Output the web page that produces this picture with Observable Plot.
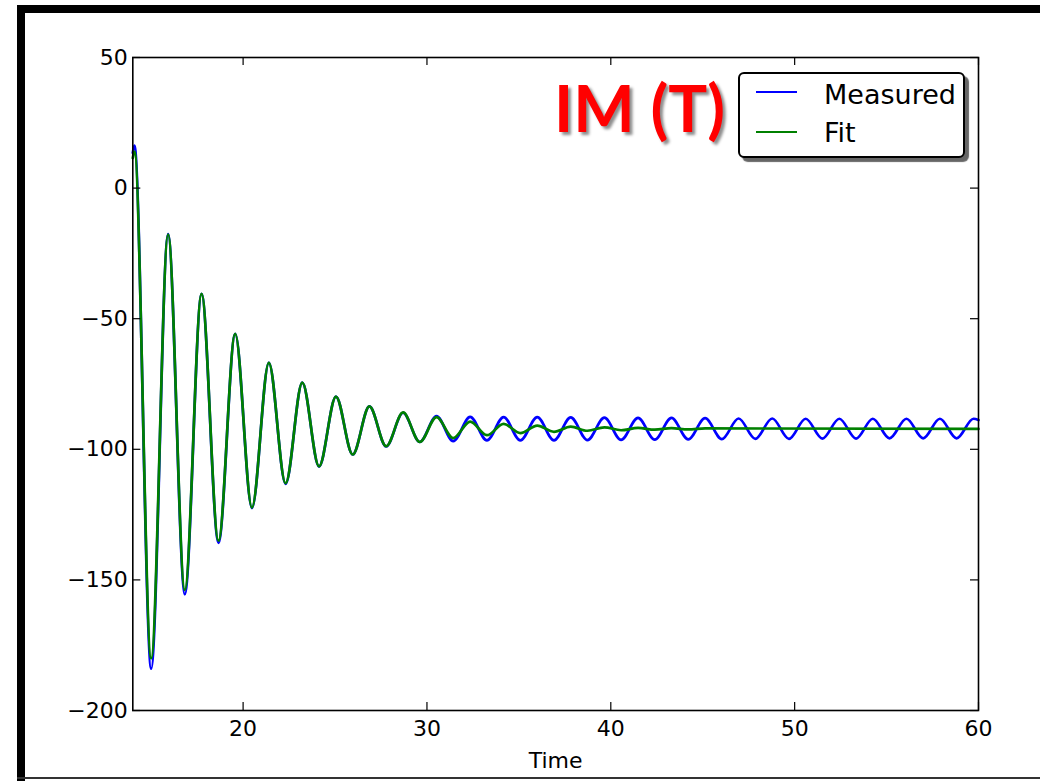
<!DOCTYPE html>
<html><head><meta charset="utf-8">
<script src="https://cdn.jsdelivr.net/npm/d3@7"></script>
<script src="https://cdn.jsdelivr.net/npm/@observablehq/plot@0.6"></script>
<style>
html,body{margin:0;padding:0;background:#fff;overflow:hidden;}
#wrap{position:relative;width:1040px;height:781px;}
#chart{position:absolute;left:0;top:0;}
.bar{position:absolute;background:#000;}
#title{position:absolute;left:554px;top:75px;font-family:Lato,"Open Sans",sans-serif;font-weight:700;font-size:65px;line-height:1;color:#ff0000;text-shadow:3px 3px 3px rgba(0,0,0,0.45);white-space:nowrap;}
#legend{position:absolute;left:738px;top:72px;width:223px;height:82px;border:2px solid #000;border-radius:6px;background:#fff;box-shadow:4px 4px 1px rgba(0,0,0,0.6);font-family:"DejaVu Sans",sans-serif;font-size:27px;line-height:1;}
#legend .sw{position:absolute;left:16px;width:41px;height:2px;}
#legend .lb{position:absolute;left:84px;white-space:nowrap;color:#000;}
</style></head>
<body>
<div id="wrap">
  <div id="chart"></div>
  <div class="bar" style="left:17px;top:5px;width:1023px;height:8px;"></div>
  <div class="bar" style="left:17px;top:5px;width:8px;height:776px;"></div>
  <div class="bar" style="left:17px;top:777px;width:1023px;height:2px;background:#333;"></div>
  <div id="title"></div>
  <div id="legend"></div>
</div>
<script>
// Measured signal: start point + successive peaks/troughs
const measuredT = [14.00, 14.09, 15.00, 15.92, 16.83, 17.74, 18.66, 19.57, 20.48, 21.40, 22.31, 23.22, 24.13, 25.05, 25.96, 26.87, 27.78, 28.70, 29.61, 30.52, 31.43, 32.35, 33.26, 34.17, 35.08, 36.00, 36.91, 37.82, 38.73, 39.65, 40.56, 41.48, 42.39, 43.30, 44.21, 45.13, 46.04, 46.95, 47.86, 48.78, 49.69, 50.60, 51.51, 52.43, 53.34, 54.25, 55.16, 56.08, 56.99, 57.90, 58.81, 59.73, 60.00];
const measuredV = [13.5, 16.3, -184.0, -17.6, -155.5, -40.5, -135.8, -55.8, -122.5, -66.9, -113.2, -74.5, -106.6, -79.8, -102.0, -83.6, -98.9, -86.0, -97.2, -87.3, -96.9, -87.6, -96.6, -87.7, -96.6, -87.7, -96.6, -87.8, -96.5, -87.9, -96.4, -88.0, -96.3, -88.0, -96.2, -88.1, -96.1, -88.2, -96.0, -88.2, -96.0, -88.3, -95.9, -88.3, -95.9, -88.3, -95.8, -88.3, -95.8, -88.3, -95.8, -88.3, -88.8];
// Fit curve: start point + peaks/troughs, then flat
const fitT = [14.00, 14.09, 15.00, 15.92, 16.83, 17.74, 18.66, 19.57, 20.48, 21.40, 22.31, 23.22, 24.13, 25.05, 25.96, 26.87, 27.78, 28.70, 29.61, 30.52, 31.43, 32.35, 33.26, 34.17, 35.08, 36.00, 36.91, 37.82, 38.73, 39.65, 40.56, 41.48, 42.39, 43.30, 44.21, 45.13, 60.00];
const fitV = [11.5, 14.0, -180.0, -17.8, -153.8, -40.5, -135.0, -55.8, -122.3, -66.9, -113.0, -74.5, -106.5, -79.8, -102.0, -83.6, -98.8, -85.9, -97.2, -87.7, -95.7, -89.4, -94.6, -90.3, -93.8, -90.9, -93.3, -91.3, -92.9, -91.6, -92.7, -91.8, -92.5, -91.9, -92.4, -92.0, -92.2];
const xTicks = [20, 30, 40, 50, 60];
const yTicks = [-200, -150, -100, -50, 0, 50];
const xDomain = [14, 60];
const yDomain = [-200, 50];
const xLabel = "Time";
const titleText = "IM (T)";
const seriesNames = ["Measured", "Fit"];
const seriesColors = ["#0000ff", "#008000"];

const measured = measuredT.map((t, i) => ({t, v: measuredV[i]}));
const fit = fitT.map((t, i) => ({t, v: fitV[i]}));
const fmt = d => d < 0 ? "\u2212" + Math.abs(d) : String(d);

const W = 1040, H = 781, mL = 132.3, mR = 62, mT = 57, mB = 71;
const fw = W - mL - mR, fh = H - mT - mB, tl = 8;

const chart = Plot.plot({
  width: W, height: H,
  marginLeft: mL, marginRight: mR, marginTop: mT, marginBottom: mB,
  style: {fontFamily: "DejaVu Sans", fontSize: "22px", color: "#000", background: "transparent", overflow: "visible"},
  x: {domain: xDomain},
  y: {domain: yDomain},
  marks: [
    Plot.line(measured, {x: "t", y: "v", stroke: seriesColors[0], strokeWidth: 2.7, curve: "monotone-x"}),
    Plot.line(fit, {x: "t", y: "v", stroke: seriesColors[1], strokeWidth: 2.7, curve: "monotone-x"}),
    Plot.tickX(xTicks, {x: d => d, insetTop: fh - tl, stroke: "#000", strokeWidth: 1.2}),
    Plot.tickX(xTicks, {x: d => d, insetBottom: fh - tl, stroke: "#000", strokeWidth: 1.2}),
    Plot.tickY(yTicks, {y: d => d, insetRight: fw - tl, stroke: "#000", strokeWidth: 1.2}),
    Plot.tickY(yTicks, {y: d => d, insetLeft: fw - tl, stroke: "#000", strokeWidth: 1.2}),
    Plot.axisX({ticks: xTicks, tickSize: 0, tickPadding: 10, tickFormat: fmt, fontSize: 22, label: null}),
    Plot.axisY({ticks: yTicks, tickSize: 0, tickPadding: 5, tickFormat: fmt, fontSize: 22, label: null}),
    Plot.frame({stroke: "#000", strokeWidth: 1.6}),
    Plot.text([xLabel], {text: d => d, frameAnchor: "bottom", dy: 57, lineAnchor: "bottom", fontSize: 22, fill: "#000"})
  ]
});
document.getElementById("chart").appendChild(chart);

document.getElementById("title").textContent = titleText;

const legend = document.getElementById("legend");
const swTops = [17, 56.7];
const lbTops = [6.5, 44.9];
seriesNames.forEach((name, i) => {
  const sw = document.createElement("div");
  sw.className = "sw";
  sw.style.top = swTops[i] + "px";
  sw.style.background = seriesColors[i];
  legend.appendChild(sw);
  const lb = document.createElement("div");
  lb.className = "lb";
  lb.style.top = lbTops[i] + "px";
  lb.textContent = name;
  legend.appendChild(lb);
});
</script>
</body></html>
